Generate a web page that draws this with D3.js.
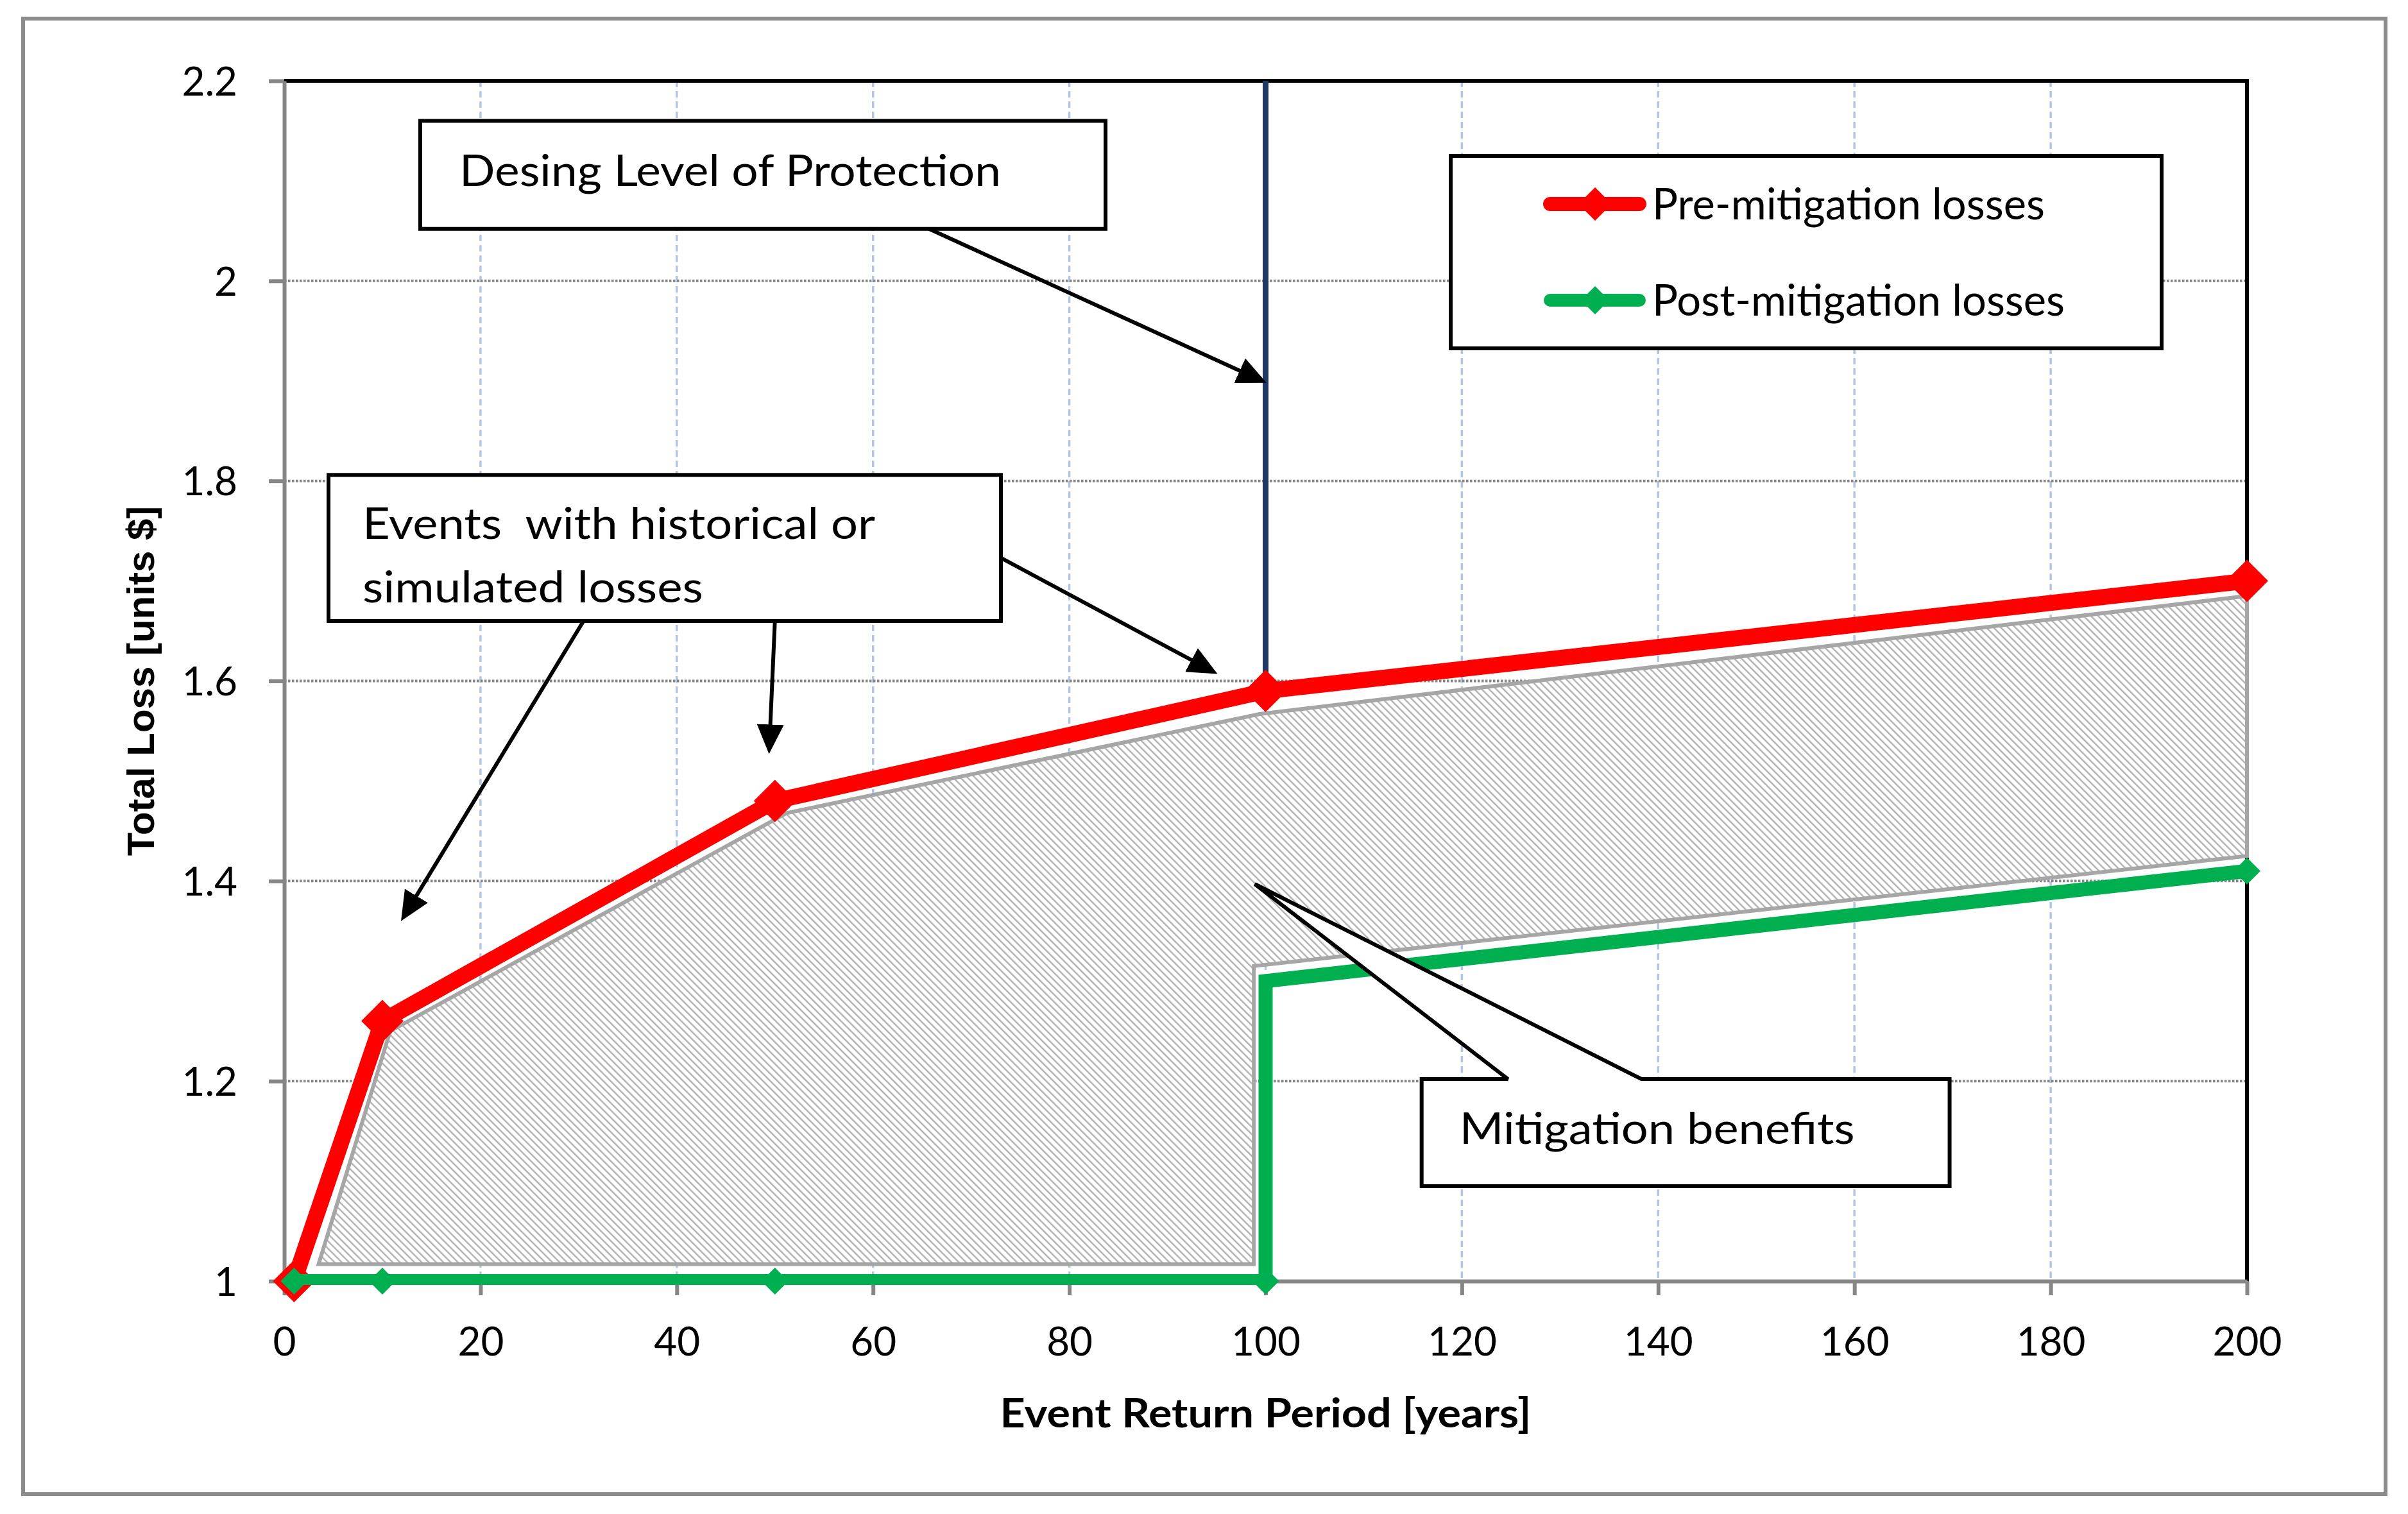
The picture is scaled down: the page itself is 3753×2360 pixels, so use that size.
<!DOCTYPE html>
<html>
<head>
<meta charset="utf-8">
<script src="https://cdn.jsdelivr.net/npm/d3@7"></script>
<style>
  body { margin: 0; background: #fff; }
  svg text { font-family: Lato, "Open Sans", sans-serif; }
</style>
</head>
<body>
<div id="chart"></div>
<script>
const WIDTH = 3753;
const HEIGHT = 2360;

// --- data ---
const preX = [1, 10, 50, 100, 200];
const preY = [1.0, 1.26, 1.48, 1.59, 1.70];

const postX = [1, 10, 50, 100, 100, 200];
const postY = [1.0, 1.0, 1.0, 1.0, 1.30, 1.41];
const postMarked = [true, true, true, true, false, true];

// hatched "mitigation benefits" band
const bandX = [3.5, 10.8, 51.2, 99.4, 200, 200, 98.8, 98.8];
const bandY = [1.017, 1.25, 1.468, 1.567, 1.685, 1.425, 1.315, 1.017];

const designPeriod = 100;

const xTicks = [0, 20, 40, 60, 80, 100, 120, 140, 160, 180, 200];
const yTicks = [1, 1.2, 1.4, 1.6, 1.8, 2, 2.2];

const seriesNames = ['Pre-mitigation losses', 'Post-mitigation losses'];
const seriesColors = ['#ff0000', '#00b050'];

// annotation boxes, in data units: [x0, x1, yTop, yBottom]
const designBox = [13.86, 83.69, 2.160, 2.052];
const eventsBox = [4.51, 73.03, 1.806, 1.660];
const benefitBox = [115.9, 169.7, 1.202, 1.095];
// arrows [fromX, fromY, toX, toY]
const arrows = [
  [65.7, 2.052, 100.1, 1.898],
  [30.5, 1.660, 11.9, 1.360],
  [50.0, 1.660, 49.4, 1.527],
  [73.03, 1.723, 95.1, 1.607]
];
// callout wedge: base x's on the box top, tip point
const wedge = [124.7, 138.3, 98.9, 1.397];

// --- layout ---
const M = { top: 126, left: 443, right: 251, bottom: 363 };
const W = WIDTH - M.left - M.right;
const H = HEIGHT - M.top - M.bottom;

const svg = d3.select('#chart').append('svg')
  .attr('width', WIDTH)
  .attr('height', HEIGHT)
  .style('display', 'block');

svg.append('rect').attr('width', WIDTH).attr('height', HEIGHT).attr('fill', '#fff');
// outer frame
svg.append('rect')
  .attr('x', 36).attr('y', 29)
  .attr('width', 3682).attr('height', 2300)
  .attr('fill', 'none').attr('stroke', '#8c8c8c').attr('stroke-width', 6);

const defs = svg.append('defs');
defs.append('pattern')
  .attr('id', 'hatch')
  .attr('patternUnits', 'userSpaceOnUse')
  .attr('width', 8).attr('height', 8)
  .attr('patternTransform', 'rotate(-45)')
  .call(p => {
    p.append('rect').attr('width', 8).attr('height', 8).attr('fill', '#fff');
    p.append('rect').attr('width', 2.4).attr('height', 8).attr('fill', '#b0b0b0');
  });
defs.append('marker')
  .attr('id', 'arrow')
  .attr('markerUnits', 'userSpaceOnUse')
  .attr('viewBox', '0 0 46 42')
  .attr('refX', 16).attr('refY', 21)
  .attr('markerWidth', 46).attr('markerHeight', 42)
  .attr('orient', 'auto')
  .append('path').attr('d', 'M0,0L46,21L0,42Z').attr('fill', '#000');
defs.append('clipPath').attr('id', 'plotclip')
  .append('rect').attr('x', -10).attr('y', -10).attr('width', W + 20).attr('height', H + 16);

const g = svg.append('g').attr('transform', `translate(${M.left},${M.top})`);

const x = d3.scaleLinear().domain([0, 200]).range([0, W]);
const y = d3.scaleLinear().domain([1, 2.2]).range([H, 0]);

// gridlines
g.append('g').selectAll('line')
  .data(xTicks.filter(d => d > 0 && d < 200))
  .join('line')
  .attr('x1', d => x(d)).attr('x2', d => x(d))
  .attr('y1', 0).attr('y2', H)
  .attr('stroke', '#b3c5e6').attr('stroke-width', 3.5)
  .attr('stroke-dasharray', '10,6');
g.append('g').selectAll('line')
  .data(yTicks.filter(d => d > 1 && d < 2.2))
  .join('line')
  .attr('x1', 0).attr('x2', W)
  .attr('y1', d => y(d)).attr('y2', d => y(d))
  .attr('stroke', '#848484').attr('stroke-width', 4)
  .attr('stroke-dasharray', '3.5,2.5');

// plot border (top / right black)
g.append('path')
  .attr('d', `M0,0H${W}V${H}`)
  .attr('fill', 'none').attr('stroke', '#000').attr('stroke-width', 6);

// hatched band
const band = bandX.map((d, i) => [d, bandY[i]]);
g.append('path')
  .attr('d', d3.line().x(d => x(d[0])).y(d => y(d[1]))(band) + 'Z')
  .attr('fill', 'url(#hatch)')
  .attr('stroke', '#a6a6a6').attr('stroke-width', 6)
  .attr('stroke-linejoin', 'miter');

// axes
const xAxis = g.append('g')
  .attr('transform', `translate(0,${H})`)
  .call(d3.axisBottom(x).tickValues(xTicks).tickSize(22).tickSizeOuter(0).tickFormat(d3.format('d')));
xAxis.selectAll('text').attr('y', 116).attr('dy', null);

const yAxis = g.append('g')
  .call(d3.axisLeft(y).tickValues(yTicks).tickSize(24).tickSizeOuter(0).tickPadding(49).tickFormat(d3.format('~g')));
yAxis.selectAll('text').attr('dy', '0.36em');

[xAxis, yAxis].forEach(a => {
  a.select('.domain').attr('stroke', '#868686').attr('stroke-width', 6);
  a.selectAll('.tick line').attr('stroke', '#868686').attr('stroke-width', 6);
  a.selectAll('.tick text')
    .attr('fill', '#000')
    .style('font-family', 'Lato, sans-serif')
    .style('font-size', '62px');
});

// design level line
g.append('line')
  .attr('x1', x(designPeriod)).attr('x2', x(designPeriod))
  .attr('y1', 0).attr('y2', y(preY[preX.indexOf(designPeriod)]))
  .attr('stroke', '#1f3864').attr('stroke-width', 9);

const diamond = r => `M0,${-r}L${r},0L0,${r}L${-r},0Z`;

// pre-mitigation series
const pre = preX.map((d, i) => [d, preY[i]]);
g.append('path')
  .attr('clip-path', 'url(#plotclip)')
  .attr('d', d3.line().x(d => x(d[0])).y(d => y(d[1]))(pre))
  .attr('fill', 'none').attr('stroke', seriesColors[0]).attr('stroke-width', 25)
  .attr('stroke-linejoin', 'round');
g.append('g').selectAll('path')
  .data(pre)
  .join('path')
  .attr('transform', d => `translate(${x(d[0])},${y(d[1])})`)
  .attr('d', diamond(33))
  .attr('fill', seriesColors[0]);

// post-mitigation series
const post = postX.map((d, i) => [d, postY[i], postMarked[i]]);
g.append('path')
  .attr('clip-path', 'url(#plotclip)')
  .attr('d', d3.line().x(d => x(d[0])).y(d => y(d[1]))(post))
  .attr('fill', 'none').attr('stroke', seriesColors[1]).attr('stroke-width', 22)
  .attr('stroke-linejoin', 'miter');
g.append('g').selectAll('path')
  .data(post.filter(d => d[2]))
  .join('path')
  .attr('transform', d => `translate(${x(d[0])},${y(d[1])})`)
  .attr('d', diamond(21))
  .attr('fill', seriesColors[1]);

// annotation boxes
const boxRect = b => ({ x: x(b[0]), y: y(b[2]), w: x(b[1]) - x(b[0]), h: y(b[3]) - y(b[2]) });
function drawBox(b) {
  const r = boxRect(b);
  g.append('rect')
    .attr('x', r.x).attr('y', r.y).attr('width', r.w).attr('height', r.h)
    .attr('fill', '#fff').attr('stroke', '#000').attr('stroke-width', 6);
  return r;
}
function label(px, py, str, len, size) {
  g.append('text')
    .attr('x', px).attr('y', py)
    .attr('textLength', len).attr('lengthAdjust', 'spacingAndGlyphs')
    .style('font-size', size + 'px')
    .style('white-space', 'pre')
    .attr('fill', '#000')
    .text(str);
}

const rd = drawBox(designBox);
label(rd.x + 61, rd.y + 102, 'Desing Level of Protection', 844, 67);

const re = drawBox(eventsBox);
label(re.x + 53, re.y + 100, 'Events  with historical or', 799, 67);
label(re.x + 53, re.y + 199, 'simulated losses', 531, 67);

// arrows
g.append('g').selectAll('line')
  .data(arrows)
  .join('line')
  .each(function (a) {
    const x1 = x(a[0]), y1 = y(a[1]), x2 = x(a[2]), y2 = y(a[3]);
    const len = Math.hypot(x2 - x1, y2 - y1);
    const k = (len - 30) / len;
    d3.select(this)
      .attr('x1', x1).attr('y1', y1)
      .attr('x2', x1 + (x2 - x1) * k).attr('y2', y1 + (y2 - y1) * k);
  })
  .attr('stroke', '#000').attr('stroke-width', 6)
  .attr('marker-end', 'url(#arrow)');

// mitigation benefits callout with wedge
const rb = boxRect(benefitBox);
g.append('path')
  .attr('d', `M${rb.x},${rb.y}H${x(wedge[0])}L${x(wedge[2])},${y(wedge[3])}L${x(wedge[1])},${rb.y}` +
    `H${rb.x + rb.w}V${rb.y + rb.h}H${rb.x}Z`)
  .attr('fill', '#fff').attr('stroke', '#000').attr('stroke-width', 6)
  .attr('stroke-linejoin', 'miter').attr('stroke-miterlimit', 3);
label(rb.x + 59, rb.y + 101, 'Mitigation benefits', 616, 67);

// legend
const lg = svg.append('g').attr('transform', 'translate(2261,243)');
lg.append('rect')
  .attr('width', 1108).attr('height', 300)
  .attr('fill', '#fff').attr('stroke', '#000').attr('stroke-width', 6);
const legendRowY = [75, 225];
const legendMarker = [26, 22];
const legendWidth = [22, 20];
const legendTextLen = [612, 643];
seriesNames.forEach((name, i) => {
  const row = lg.append('g').attr('transform', `translate(0,${legendRowY[i]})`);
  row.append('line')
    .attr('x1', 155).attr('x2', 294)
    .attr('stroke', seriesColors[i]).attr('stroke-width', legendWidth[i])
    .attr('stroke-linecap', 'round');
  row.append('path')
    .attr('transform', 'translate(225,0)')
    .attr('d', diamond(legendMarker[i]))
    .attr('fill', seriesColors[i]);
  row.append('text')
    .attr('x', 314).attr('y', 24)
    .attr('textLength', legendTextLen[i]).attr('lengthAdjust', 'spacingAndGlyphs')
    .style('font-size', '67px')
    .attr('fill', '#000')
    .text(name);
});

// axis titles
svg.append('text')
  .attr('x', M.left + W / 2).attr('y', 2225)
  .attr('text-anchor', 'middle')
  .attr('textLength', 828).attr('lengthAdjust', 'spacingAndGlyphs')
  .style('font-size', '63px').style('font-weight', 'bold')
  .attr('fill', '#000')
  .text('Event Return Period [years]');

svg.append('text')
  .attr('transform', `translate(240,${M.top + H / 2}) rotate(-90)`)
  .attr('text-anchor', 'middle')
  .style('font-family', '"Liberation Sans", Arial, sans-serif')
  .style('font-size', '60px').style('font-weight', 'bold')
  .attr('fill', '#000')
  .text('Total Loss [units $]');
</script>
</body>
</html>
